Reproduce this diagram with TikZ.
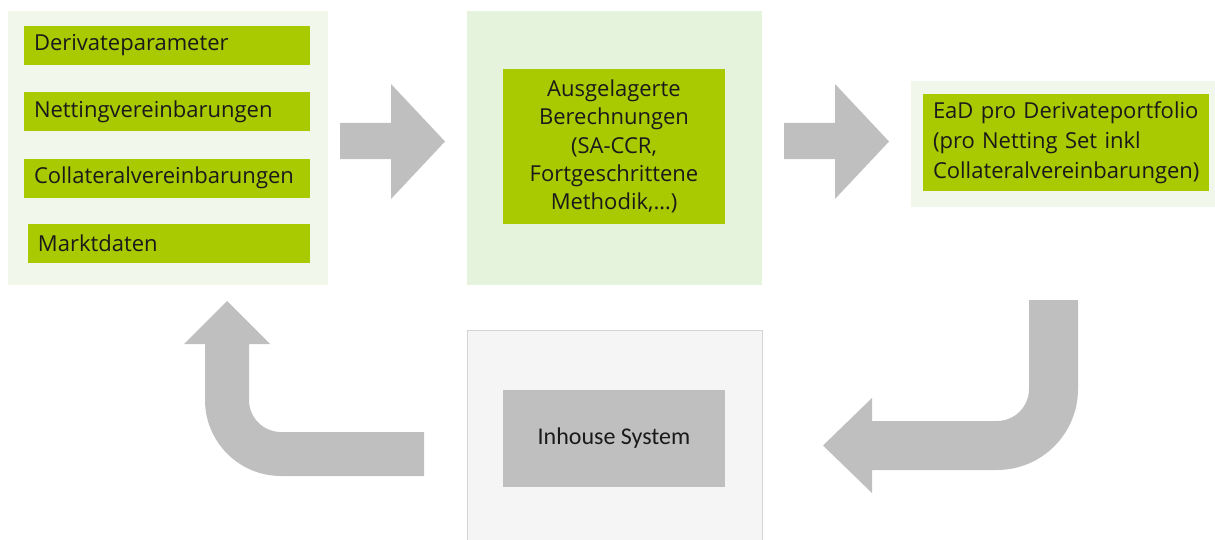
\documentclass[tikz,border=0pt]{standalone}
\usepackage{fontspec}
\setmainfont{Open Sans}
\newfontfamily\inhousefont{Carlito}
\definecolor{boxgreen}{HTML}{A9C900}
\definecolor{panelgreen}{HTML}{F1F7EA}
\definecolor{panelmid}{HTML}{E6F3DC}
\definecolor{panelgrey}{HTML}{F5F5F5}
\definecolor{panelline}{HTML}{D3D3D3}
\definecolor{arrowgrey}{HTML}{BFBFBF}
\definecolor{textdark}{HTML}{1A1A1A}
\hyphenpenalty=10000

\begin{document}
\begin{tikzpicture}[x=0.5pt,y=-0.5pt,
	item/.style={fill=boxgreen,text=textdark,font=\fontsize{11}{14.2}\selectfont,inner xsep=5pt,inner ysep=0pt,minimum height=19.5pt,align=left},
	bigarrow/.style={fill=arrowgrey}]
\useasboundingbox (0,0) rectangle (1215,540);
%	panels
	\fill[panelgreen] (8,11) rectangle (328,285);
	\fill[panelmid] (467,11) rectangle (762,285);
	\fill[panelgreen] (911,81) rectangle (1215,207);
	\fill[panelgrey] (467,330) rectangle (762,540);
	\draw[panelline] (467,540) -- (467,330) -- (762,330) -- (762,540);
%	inputs
	\node[item,text width=133pt] (P) at (167,45.5) {Derivateparameter};
	\node[item,text width=133pt] (N) at (167,112) {Nettingvereinbarungen};
	\node[item,text width=133pt] (C) at (167,178) {Collateralvereinbarungen};
	\node[item,text width=131pt] (M) at (169,243.5) {Marktdaten};
%	calculation
	\node[item,text width=101pt,align=center,minimum height=77.5pt] (B) at (614,146.5)
		{Ausgelagerte\\Berechnungen\\(SA-CCR,\\Fortgeschrittene\\Methodik,…)};
%	result
	\node[item,text width=133pt,minimum height=48.5pt,font=\fontsize{11}{15}\selectfont] (E) at (1066,142.5)
		{EaD pro Derivateportfolio\\(pro Netting Set inkl\\Collateralvereinbarungen)};
%	inhouse
	\node[fill=arrowgrey,text=textdark,minimum width=111pt,minimum height=48.5pt,font=\inhousefont\fontsize{12}{14}\selectfont] (I) at (614,438.5) {Inhouse System};
%	block arrows
	\begin{scope}
		\fill[bigarrow] (340,123) -- (391,123) -- (391,84) -- (445,141.5) -- (391,199) -- (391,159) -- (340,159) -- cycle;
	\end{scope}
	\begin{scope}[xshift=222pt]
		\fill[bigarrow] (340,123) -- (391,123) -- (391,84) -- (445,141.5) -- (391,199) -- (391,159) -- (340,159) -- cycle;
	\end{scope}
	\fill[bigarrow] (1029,300) -- (1078,300) -- (1078,389) arc[start angle=0,end angle=90,radius=81]
		-- (872,470) -- (872,493) -- (823,445.5) -- (872,398) -- (872,421) -- (997,421)
		arc[start angle=90,end angle=0,radius=32] -- cycle;
	\fill[bigarrow] (227,301) -- (270,344) -- (249,344) -- (249,400) arc[start angle=180,end angle=90,radius=32]
		-- (424,432) -- (424,476) -- (281,476) arc[start angle=90,end angle=180,radius=76]
		-- (205,344) -- (184,344) -- cycle;
\end{tikzpicture}
\end{document}
